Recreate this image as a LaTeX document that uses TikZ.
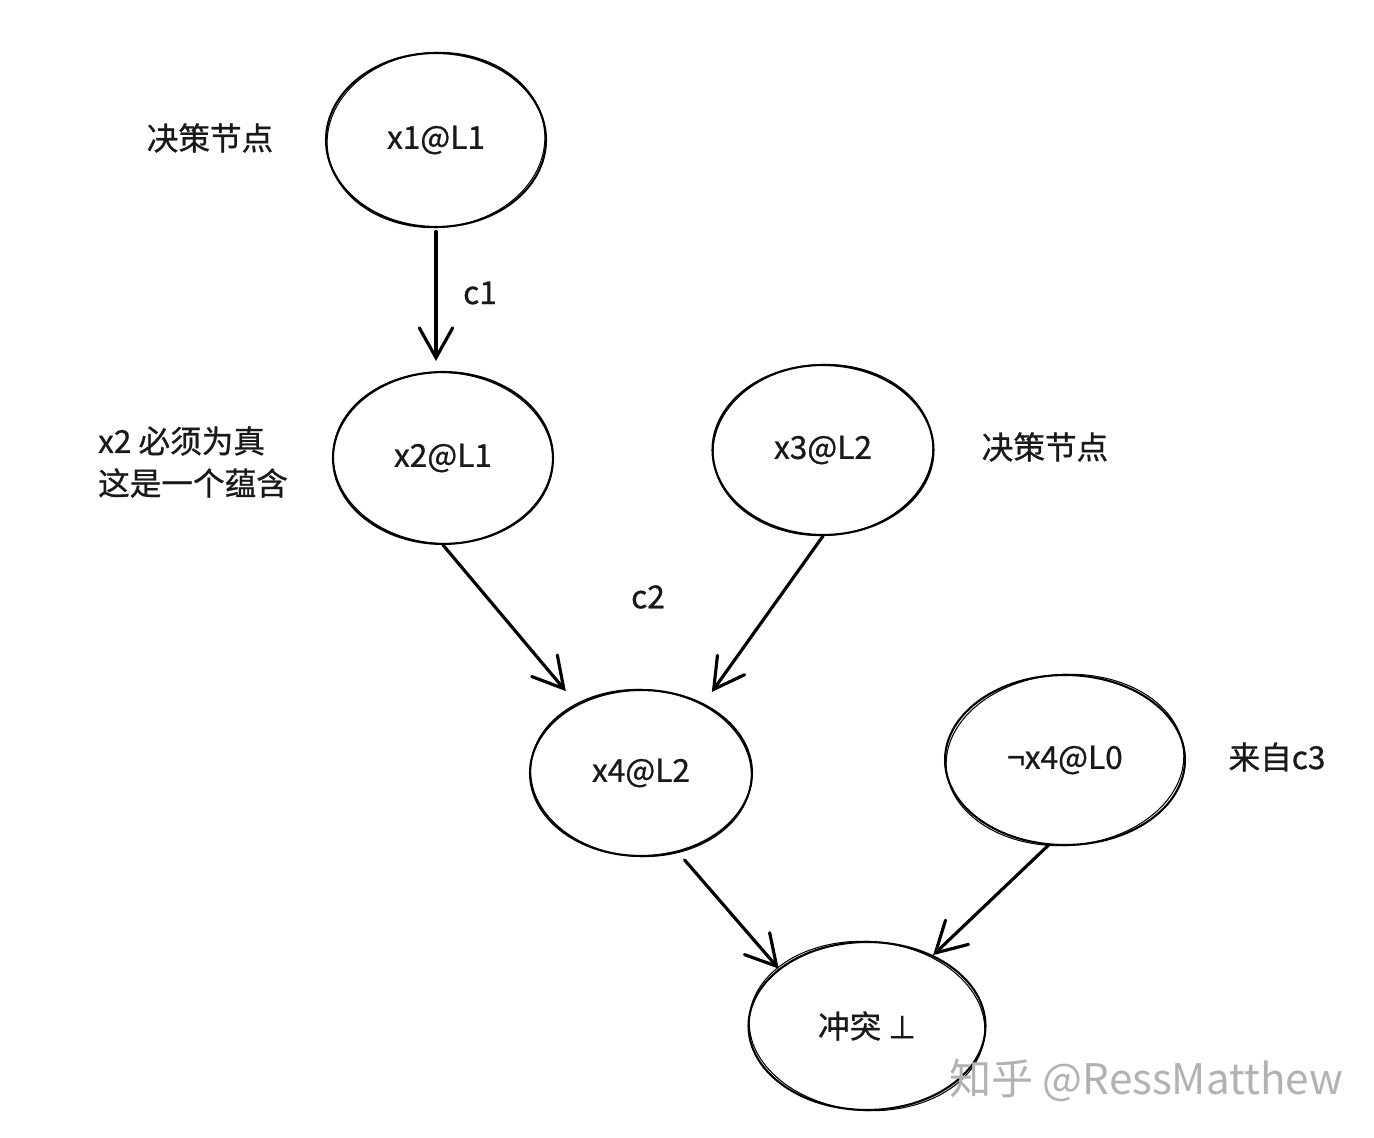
\documentclass[tikz,border=0pt]{standalone}
\usepackage{fontspec}
\newfontfamily\cjk{Noto Sans CJK SC}[FakeBold=0.8]
\newfontfamily\cjkwm{Noto Sans CJK SC}
\newfontfamily\dejavu{DejaVu Sans}[FakeBold=0.8]
\usetikzlibrary{arrows.meta,shapes.geometric}
\begin{document}
\begin{tikzpicture}[x=0.02cm,y=-0.02cm,
  lbl/.style={font=\cjk\fontsize{18}{24}\selectfont, text=black!90},
  state/.style={ellipse, draw, line width=1.2pt, inner sep=0pt, lbl},
  conn/.style={line width=1.8pt, line cap=round, -{Straight Barb[length=17pt,width=19pt,line cap=round]}},
  sketch/.style={line width=0.6pt}]
\useasboundingbox (0,0) rectangle (1374,1138);
% nodes
\node[state, minimum width=4.4cm,  minimum height=3.48cm] (x1)  at (436,140)  {x1@L1};
\node[state, minimum width=4.4cm,  minimum height=3.44cm] (x2)  at (443,458)  {x2@L1};
\node[state, minimum width=4.42cm, minimum height=3.4cm]  (x3)  at (823,450)  {x3@L2};
\node[state, minimum width=4.44cm, minimum height=3.32cm] (x4)  at (641,773)  {x4@L2};
\node[state, minimum width=4.8cm,  minimum height=3.4cm]  (nx4) at (1065,760) {¬x4@L0};
\node[state, minimum width=4.74cm, minimum height=3.36cm] (cf)  at (867,1026) {冲突 {\dejavu ⊥}};
% sketchy second strokes
\draw[sketch, rotate around={4:(x1.center)}]  (x1.center)  ellipse [x radius=2.18cm, y radius=1.75cm];
\draw[sketch, rotate around={-3:(x2.center)}] (x2.center)  ellipse [x radius=2.2cm,  y radius=1.71cm];
\draw[sketch, rotate around={3:(x3.center)}]  (x3.center)  ellipse [x radius=2.2cm,  y radius=1.71cm];
\draw[sketch, rotate around={-3:(x4.center)}] (x4.center)  ellipse [x radius=2.21cm, y radius=1.67cm];
\draw[sketch, rotate around={4:(nx4.center)}] (nx4.center) ellipse [x radius=2.38cm, y radius=1.71cm];
\draw[sketch, rotate around={-4:(cf.center)}] (cf.center)  ellipse [x radius=2.36cm, y radius=1.69cm];
% labels
\node[lbl] (d1)  at (210,138)  {决策节点};
\node[lbl] (c1l) at (480,293)  {c1};
\node[lbl, align=left] (imp) at (193,462) {x2 必须为真\\这是一个蕴含};
\node[lbl] (d2)  at (1045,447) {决策节点};
\node[lbl] (c2l) at (648,597)  {c2};
\node[lbl] (src) at (1277,757) {来自c3};
\node[font=\cjkwm\fontsize{24}{28}\selectfont, text=black!30] (wm) at (1146,1080) {知乎 @RessMatthew};
% connectors
\draw[conn, shorten <=2pt, shorten >=0.2cm] (x1.south) -- (x1.south |- x2.north);
\draw[conn, shorten >=0.34cm] (x2.south) -- (x4.133);
\draw[conn, shorten >=0.28cm] (x3.south) -- (x4.48);
\draw[conn, shorten <=0.2cm] (x4.-65) -- (cf.147);
\draw[conn] (nx4.-101) -- (cf.47);
\end{tikzpicture}
\end{document}
